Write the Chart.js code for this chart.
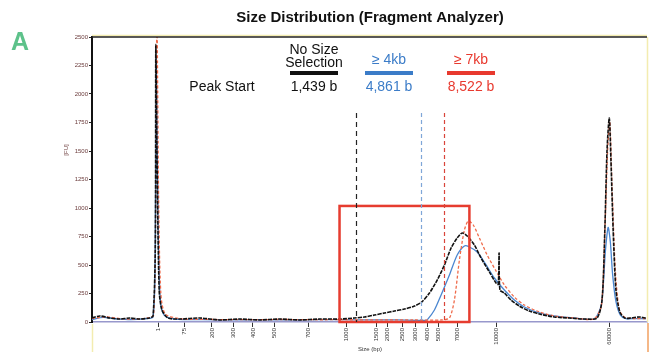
<!DOCTYPE html>
<html><head><meta charset="utf-8">
<script src="https://cdn.jsdelivr.net/npm/chart.js@4/dist/chart.umd.min.js"></script>
<style>html,body{margin:0;padding:0;background:#fff}#wrap{width:651px;height:352px;position:relative}</style>
</head><body><div id="wrap"><canvas id="c" width="651" height="352"></canvas></div>
<script>
// Ladder tick positions (migration units) and their size labels
const ladderPos = [11.9,16.7,21.6,25.5,29.0,32.9,39.0,45.9,51.3,53.2,55.9,58.3,60.4,62.4,65.8,72.8,93.2];
const ladderLabels = ["1","75","200","300","400","500","700","1000","1500","2000","2500","3000","4000","5000","7000","10000","60000"];
const yTicks = [0,250,500,750,1000,1250,1500,1750,2000,2250,2500];

// No size selection (black)
const tBlack = [0,1.4,3.2,5.0,6.8,8.6,10.4,11.0,11.4,11.5,11.7,12.1,12.6,13.7,15.8,19.4,23.0,26.6,30.2,33.8,37.4,41.0,44.6,47.3,49.1,50.9,52.7,54.5,56.3,58.1,59.4,60.8,62.2,63.5,64.7,65.8,66.7,67.6,68.9,70.1,71.6,72.8,73.2,73.35,73.5,74.3,75.5,77.0,78.8,80.6,83.3,86.0,88.7,91.0,91.9,92.4,92.8,93.2,93.5,93.9,94.4,95.1,96.0,97.1,98.6,99.8];
const fuBlack = [35,53,35,26,35,26,35,53,630,2430,1510,280,105,35,26,35,18,26,18,26,18,26,26,35,44,61,79,96,114,140,175,254,368,500,649,737,781,754,675,561,439,342,330,605,281,254,193,140,96,70,44,35,26,35,193,807,1509,1789,1421,807,281,88,35,35,44,35];

// >= 4 kb (blue)
const tBlue = [0,2.0,4.5,7.0,9.5,11.0,11.4,11.6,11.9,12.3,13.0,15.0,20.0,25.0,30.0,35.0,40.0,45.0,50.0,55.0,58.5,60.1,60.4,61.7,62.9,64.4,65.8,67.1,68.0,69.4,70.9,72.5,74.3,76.1,77.9,80.6,83.3,86.9,90.5,91.8,92.5,93.0,93.4,93.8,94.4,95.2,96.2,98.0,99.8];
const fuBlue = [22,40,28,22,30,45,700,2300,900,200,60,25,20,18,20,18,20,20,18,18,15,15,18,105,237,412,588,667,658,614,509,386,281,193,132,79,53,35,28,160,620,830,700,420,180,60,30,30,28];

// >= 7 kb (red, dashed)
const tRed = [0,2.5,5.0,7.5,10.0,11.1,11.5,11.7,12.0,12.4,13.2,16.0,22.0,28.0,34.0,40.0,46.0,52.0,58.0,63.0,64.4,65.3,66.2,67.1,67.8,68.7,69.8,71.2,72.7,74.3,76.1,77.9,80.6,83.3,86.9,90.5,91.8,92.4,92.9,93.3,93.7,94.3,95.0,96.0,98.0,99.8];
const fuRed = [30,45,30,25,35,60,1200,2700,1100,250,70,28,22,20,22,20,20,18,18,18,35,193,544,807,886,851,737,588,456,325,219,149,88,53,35,28,150,780,1500,1760,1200,450,110,40,30,30];

// Peak start annotation (migration position of each dashed line)
const peakLabels = ["1,439 b","4,861 b","8,522 b"];
const peakPos = [47.5,59.2,63.5];
const seriesNames = ["No Size\nSelection","\u2265 4kb","\u2265 7kb"];
const seriesColors = ["#111111","#3b7cc8","#e8392e"];
const boxRange = [44.6,68.0,1018]; // x from, x to, FU top

const toPts = (t, v) => t.map((x, i) => ({x, y: v[i]}));

const overlay = {
  id: 'overlay',
  afterDatasetsDraw(chart) {
    const {ctx, chartArea: a, scales: {x, y}} = chart;
    ctx.save();
    ctx.strokeStyle = '#e63c2f'; ctx.lineWidth = 2.5;
    ctx.strokeRect(x.getPixelForValue(boxRange[0]), y.getPixelForValue(boxRange[2]),
      x.getPixelForValue(boxRange[1]) - x.getPixelForValue(boxRange[0]),
      y.getPixelForValue(0) - y.getPixelForValue(boxRange[2]));
    const dashCols = ['#222222','#7fa6d8','#d9443a'];
    peakPos.forEach((p, i) => {
      ctx.beginPath(); ctx.setLineDash(i === 0 ? [5,4] : [4,3]);
      ctx.strokeStyle = dashCols[i]; ctx.lineWidth = 1.2;
      const px = Math.round(x.getPixelForValue(p)) + 0.5;
      ctx.moveTo(px, y.getPixelForValue(1833)); ctx.lineTo(px, a.bottom);
      ctx.stroke();
    });
    ctx.setLineDash([]);
    ctx.restore();
  },
  afterDraw(chart) {
    const {ctx, chartArea: a} = chart;
    ctx.save();
    ctx.strokeStyle = '#f3ecb0'; ctx.lineWidth = 1.5;
    ctx.beginPath(); ctx.moveTo(a.left, a.top - 1.5); ctx.lineTo(a.right, a.top - 1.5); ctx.stroke();
    ctx.beginPath(); ctx.moveTo(a.right + 0.5, a.top); ctx.lineTo(a.right + 0.5, a.bottom); ctx.stroke();
    ctx.beginPath(); ctx.moveTo(a.left + 0.5, a.bottom + 2); ctx.lineTo(a.left + 0.5, 352); ctx.stroke();
    ctx.strokeStyle = '#222'; ctx.lineWidth = 1.6;
    ctx.beginPath(); ctx.moveTo(a.left, a.top); ctx.lineTo(a.right, a.top); ctx.stroke();
    ctx.strokeStyle = '#f2a060'; ctx.lineWidth = 1.5;
    ctx.beginPath(); ctx.moveTo(a.right + 1, a.bottom + 1); ctx.lineTo(a.right + 1, 352); ctx.stroke();

    ctx.fillStyle = '#5dc28a'; ctx.font = 'bold 25px "Liberation Sans", Arial, sans-serif';
    ctx.textAlign = 'left'; ctx.textBaseline = 'middle';
    ctx.fillText('A', 11, 43);
    ctx.fillStyle = '#111'; ctx.font = 'bold 15px "Liberation Sans", Arial, sans-serif';
    ctx.textAlign = 'center';
    ctx.fillText('Size Distribution (Fragment Analyzer)', 370, 18);

    const cx = [314, 389, 471];
    ctx.font = '14px "Liberation Sans", Arial, sans-serif';
    seriesNames.forEach((n, i) => {
      ctx.fillStyle = i === 0 ? '#111' : seriesColors[i];
      const lines = n.split('\n');
      if (lines.length === 2) { ctx.fillText(lines[0], cx[i], 50); ctx.fillText(lines[1], cx[i], 63); }
      else ctx.fillText(lines[0], cx[i], 60);
      ctx.fillStyle = seriesColors[i];
      ctx.fillRect(cx[i] - 24, 71, 48, 4);
      ctx.fillStyle = i === 0 ? '#111' : seriesColors[i];
      ctx.fillText(peakLabels[i], cx[i], 87);
    });
    ctx.fillStyle = '#111';
    ctx.fillText('Peak Start', 222, 87);

    ctx.fillStyle = '#6a3a3a'; ctx.font = '6px "Liberation Sans", Arial, sans-serif';
    ctx.save(); ctx.translate(66, 150); ctx.rotate(-Math.PI / 2);
    ctx.fillText('[FU]', 0, 0); ctx.restore();
    ctx.fillStyle = '#333';
    ctx.fillText('Size (bp)', 370, 349);
    ctx.restore();
  }
};

new Chart(document.getElementById('c'), {
  type: 'line',
  data: {
    datasets: [
      {label: '\u2265 4kb', data: toPts(tBlue, fuBlue), borderColor: '#4a86d0', borderWidth: 1.3, pointRadius: 0, tension: 0.25, order: 3},
      {label: '\u2265 7kb', data: toPts(tRed, fuRed), borderColor: '#ef6a4a', borderWidth: 1.3, borderDash: [3,2], pointRadius: 0, tension: 0.25, order: 2},
      {label: 'No Size Selection', data: toPts(tBlack, fuBlack), borderColor: '#111', borderWidth: 1.6, borderDash: [4,1], pointRadius: 0, tension: 0.25, order: 1}
    ]
  },
  options: {
    responsive: false, animation: false,
    layout: {padding: {left: 0, right: 4, top: 37, bottom: 0}},
    plugins: {legend: {display: false}, tooltip: {enabled: false}, title: {display: false}},
    scales: {
      x: {
        type: 'linear', min: 0, max: 100,
        afterBuildTicks: s => { s.ticks = ladderPos.map(v => ({value: v})); },
        afterFit: s => { s.height = 30; },
        ticks: {autoSkip: false, minRotation: 90, maxRotation: 90, font: {size: 6}, color: '#333', padding: 1,
          callback: (v, i) => ladderLabels[i]},
        grid: {drawOnChartArea: false, drawTicks: true, tickLength: 5, color: '#333', tickWidth: 1},
        border: {color: '#9898cc', width: 1.5}
      },
      y: {
        min: 0, max: 2500,
        afterBuildTicks: s => { s.ticks = yTicks.map(v => ({value: v})); },
        afterFit: s => { s.width = 92; },
        ticks: {font: {size: 6}, color: '#6a3a3a', padding: 1, callback: v => String(v)},
        grid: {drawOnChartArea: false, drawTicks: true, tickLength: 3, color: '#222'},
        border: {color: '#111', width: 2}
      }
    }
  },
  plugins: [overlay]
});
</script></body></html>
